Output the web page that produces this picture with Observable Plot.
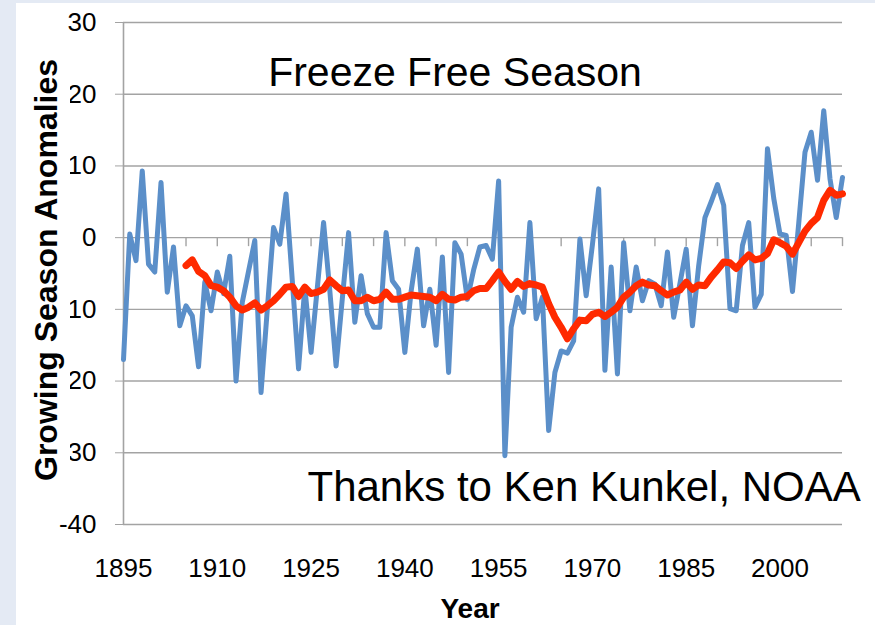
<!DOCTYPE html>
<html>
<head>
<meta charset="utf-8">
<script src="https://cdn.jsdelivr.net/npm/d3@7"></script>
<script src="https://cdn.jsdelivr.net/npm/@observablehq/plot@0.6"></script>
<style>
  html, body { margin: 0; padding: 0; }
  body { width: 875px; height: 625px; background: #e4eaf4; position: relative; overflow: hidden; font-family: "Liberation Sans", Arial, sans-serif; }
  #panel { position: absolute; left: 16px; top: 3px; width: 859px; height: 622px; background: #ffffff; }
  #chart { position: absolute; left: 0; top: 0; }
  #chart g[aria-label$="tick label"] { font-family: "Liberation Sans Narrow", "Liberation Sans", Arial, sans-serif; font-size: 26px; }
  #ytitle { position: absolute; left: 49px; top: 270px; transform: translate(-50%, -50%) rotate(-90deg);
            font: bold 32px "Liberation Sans", Arial, sans-serif; line-height: 36px; padding-bottom: 6px;
            background: #ffffff; white-space: nowrap; color: #000; }
</style>
</head>
<body>
<div id="panel"></div>
<div id="chart"></div>
<div id="ytitle">Growing Season Anomalies</div>
<script>
// ---- data ----
const firstYear = 1895;
const annualAnomalies = [
  -17, 0.5, -3.2, 9.3, -3.7, -4.8, 7.7, -7.6, -1.3, -12.3,
  -9.5, -10.9, -18, -6.2, -10.2, -4.8, -7.8, -2.6, -20, -9,
  -4.7, -0.4, -21.6, -10, 1.4, -0.9, 6.1, -6, -18.3, -6.9,
  -16, -7, 2.1, -7.4, -17.9, -8.5, 0.7, -11.8, -5.3, -10.6,
  -12.5, -12.5, 0.7, -6, -7.2, -16, -7.5, -1.6, -12.3, -7.2,
  -15, -2.7, -18.8, -0.7, -2.3, -8.6, -4.5, -1.3, -1.1, -3,
  7.9, -30.4, -12.5, -8.3, -10.4, 2.1, -11.3, -8.3, -26.9, -18.8,
  -15.8, -16.1, -14.4, -0.2, -8.1, -1, 6.8, -18.5, -4.1, -19,
  -0.7, -10.2, -4.1, -8.8, -6, -6.5, -9.5, -2, -11.1, -6.4,
  -1.6, -12.3, -3.9, 2.8, 5, 7.4, 4.5, -9.9, -10.2, -1.1,
  2.1, -9.7, -7.9, 12.4, 5.5, 0.5, 0.3, -7.5, 2, 11.9,
  14.7, 8, 17.7, 8.2, 2.8, 8.4
];
const smoothFirstYear = 1905;
const smoothedAnomalies = [
  -3.9, -3.1, -4.7, -5.3, -6.7, -6.9, -7.4, -8.3, -9.5, -10.1,
  -9.7, -9.1, -10.1, -9.5, -8.8, -7.9, -6.9, -6.8, -8.2, -6.9,
  -7.8, -7.6, -7.2, -5.9, -6.7, -7.4, -7.3, -8.8, -8.8, -8.3,
  -8.8, -8.6, -7.6, -8.6, -8.6, -8.3, -8, -8.1, -8.2, -8.3,
  -8.8, -7.9, -8.6, -8.7, -8.3, -8.2, -7.4, -7.1, -7.1, -6,
  -4.8, -6.1, -7.2, -6.1, -6.8, -6.4, -6.6, -6.9, -9.2, -11.1,
  -12.5, -14.1, -12.7, -11.5, -11.6, -10.7, -10.4, -11, -10.4, -9.7,
  -8.3, -7.6, -6.7, -6.2, -6.6, -6.7, -7.4, -8, -7.6, -7.3,
  -6.2, -7.2, -6.6, -6.7, -5.5, -4.5, -3.4, -3.5, -4.3, -3.3,
  -2.4, -3.1, -2.9, -2.2, -0.3, -0.7, -1.2, -2.3, -0.7, 0.9,
  2.0, 2.8, 5.2, 6.6, 5.9, 6.1
];
const xLabelYears = [1895, 1910, 1925, 1940, 1955, 1970, 1985, 2000];
const xTickYears = [1905, 1910, 1915, 1920, 1925, 1930, 1935, 1940, 1945, 1950, 1955, 1960, 1965, 1970, 1975, 1980, 1985, 1990, 1995, 2000, 2005, 2010];
const yTicks = [30, 20, 10, 0, -10, -20, -30, -40];
const titleText = ["Freeze Free Season"];
const creditText = ["Thanks to Ken Kunkel, NOAA"];
const xTitle = ["Year"];

// ---- tables built from the arrays ----
const annual = annualAnomalies.map((v, i) => ({year: firstYear + i, value: v}));
const smooth = smoothedAnomalies.map((v, i) => ({year: smoothFirstYear + i, value: v}));

const gray = "#a3a3a3";
const font = "Liberation Sans, Arial, sans-serif";

const chart = Plot.plot({
  width: 875,
  height: 625,
  marginLeft: 123,
  marginRight: 33,
  marginTop: 22,
  marginBottom: 101,
  style: {background: "transparent", fontFamily: font, fontSize: "22px", color: "#000"},
  x: {domain: [1895, 2010]},
  y: {domain: [-40, 30]},
  marks: [
    Plot.gridY(yTicks, {stroke: gray, strokeOpacity: 1, strokeWidth: 1.4}),
    Plot.ruleX([1895], {stroke: gray, strokeWidth: 1.6}),
    Plot.ruleX(xTickYears, {x: d => d, y1: () => 0, y2: () => 0, insetBottom: -9, stroke: gray, strokeWidth: 1.4}),
    Plot.axisY(yTicks, {tickSize: 8, tickPadding: 19, stroke: gray, fill: "#000", label: null, tickFormat: d => String(d)}),
    Plot.axisX(xLabelYears, {tickSize: 0, tickPadding: 34, tickFormat: d => String(d), label: null, fill: "#000"}),
    Plot.line(annual, {x: "year", y: "value", stroke: "#5b8fc9", strokeWidth: 5, strokeLinejoin: "round", strokeLinecap: "round"}),
    Plot.line(smooth, {x: "year", y: "value", stroke: "#ff2a00", strokeWidth: 7, strokeLinejoin: "round", strokeLinecap: "round"}),
    Plot.text(titleText, {frameAnchor: "top", dx: -28, dy: 63, lineAnchor: "bottom", textAnchor: "middle", fontSize: 41, fontFamily: font, fill: "#000"}),
    Plot.text(creditText, {frameAnchor: "bottom-left", dx: 184, dy: -24, lineAnchor: "bottom", textAnchor: "start", fontSize: 42, fontFamily: font, fill: "#000"}),
    Plot.text(xTitle, {frameAnchor: "bottom", dx: -13, dy: 93, lineAnchor: "bottom", textAnchor: "middle", fontSize: 28, fontWeight: "bold", fontFamily: font, fill: "#000"})
  ]
});
document.getElementById("chart").appendChild(chart);
</script>
</body>
</html>
